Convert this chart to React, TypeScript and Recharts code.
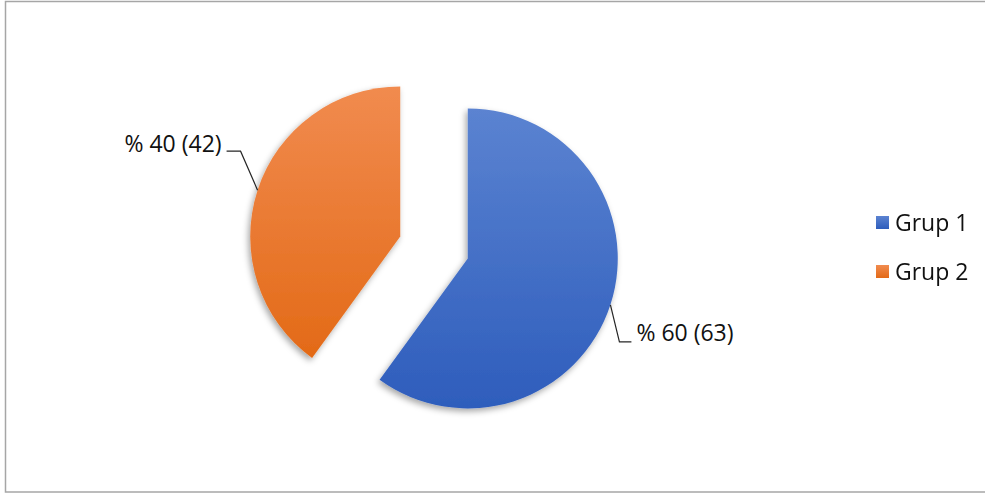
import React from 'react';
import { PieChart, Pie, Cell, Legend } from 'recharts';

const categories = ['Grup 1', 'Grup 2'];
const values = [63, 42];
const percentLabels = ['% 60', '% 40'];

const W = 985;
const H = 494;
const BASE_CX = 434;
const BASE_CY = 247.5;
const RADIUS = 150;
const EXPLODE = 35.5;

const gradIds = ['gradBlue', 'gradOrange'];
const gradStops = [
  ['#5B83D1', '#2E5DBC'],
  ['#F18B4F', '#E36A17'],
];

const total = values.reduce((a, b) => a + b, 0);
let acc = 0;
const slices = values.map((v, i) => {
  const startAngle = 90 - (acc / total) * 360;
  acc += v;
  const endAngle = 90 - (acc / total) * 360;
  const mid = ((startAngle + endAngle) / 2) * (Math.PI / 180);
  return {
    data: [{ name: categories[i], value: v, pct: percentLabels[i] }],
    startAngle,
    endAngle,
    cx: BASE_CX + EXPLODE * Math.cos(mid),
    cy: BASE_CY - EXPLODE * Math.sin(mid),
  };
});

const FONT = '"Open Sans", "Noto Sans", sans-serif';
const FS = 23;

const renderLabel = (props: any) => {
  const { cx, cy, midAngle, outerRadius, payload, value } = props;
  const rad = (midAngle * Math.PI) / 180;
  const ex = cx + outerRadius * Math.cos(rad);
  const ey = cy - outerRadius * Math.sin(rad);
  const right = Math.cos(rad) >= 0;
  const kx = ex + (right ? 9 : -17);
  const ky = ey + (right ? 37 : -39);
  const lx = kx + (right ? 12 : -14);
  const text = `${payload.pct} (${value})`;
  return (
    <g>
      <polyline
        points={`${ex},${ey} ${kx},${ky} ${lx},${ky}`}
        fill="none"
        stroke="#262626"
        strokeWidth={1.2}
      />
      <text
        x={lx + (right ? 5 : -5)}
        y={ky - (right ? 7 : 5)}
        textAnchor={right ? 'start' : 'end'}
        dominantBaseline="middle"
        fontFamily={FONT}
        fontSize={FS}
        fill="#111"
      >
        {text}
      </text>
    </g>
  );
};

const LegendContent = () => (
  <div style={{ fontFamily: FONT, fontSize: FS, color: '#111' }}>
    {categories.map((c, i) => (
      <div
        key={c}
        style={{ display: 'flex', alignItems: 'center', height: 26, marginBottom: i === 0 ? 23 : 0 }}
      >
        <span
          style={{
            display: 'inline-block',
            width: 13,
            height: 13,
            marginRight: 6,
            background: `linear-gradient(${gradStops[i][0]}, ${gradStops[i][1]})`,
          }}
        />
        <span>{c}</span>
      </div>
    ))}
  </div>
);

export default function App() {
  return (
    <div style={{ position: 'fixed', left: 0, top: 0, width: W, height: H, background: '#fff' }}>
      <PieChart width={W} height={H} margin={{ top: 0, right: 0, bottom: 0, left: 0 }}>
        <defs>
          {gradIds.map((id, i) => (
            <linearGradient key={id} id={id} x1="0" y1="0" x2="0" y2="1">
              <stop offset="0%" stopColor={gradStops[i][0]} />
              <stop offset="100%" stopColor={gradStops[i][1]} />
            </linearGradient>
          ))}
          <filter id="shadow" x="-20%" y="-20%" width="140%" height="140%">
            <feDropShadow dx={-2} dy={3} stdDeviation={3} floodColor="#000" floodOpacity={0.35} />
          </filter>
        </defs>
        <rect x={5.5} y={1.5} width={990} height={490.5} fill="none" stroke="#A6A6A6" strokeWidth={1.5} />
        {slices.map((s, i) => (
          <Pie
            key={categories[i]}
            data={s.data}
            dataKey="value"
            nameKey="name"
            cx={s.cx}
            cy={s.cy}
            outerRadius={RADIUS}
            startAngle={s.startAngle}
            endAngle={s.endAngle}
            stroke="none"
            isAnimationActive={false}
            label={renderLabel}
            labelLine={false}
            style={{ filter: 'url(#shadow)' }}
          >
            <Cell fill={`url(#${gradIds[i]})`} />
          </Pie>
        ))}
        <Legend
          content={<LegendContent />}
          wrapperStyle={{ position: 'absolute', left: 876, top: 209, width: 110 }}
        />
      </PieChart>
    </div>
  );
}
